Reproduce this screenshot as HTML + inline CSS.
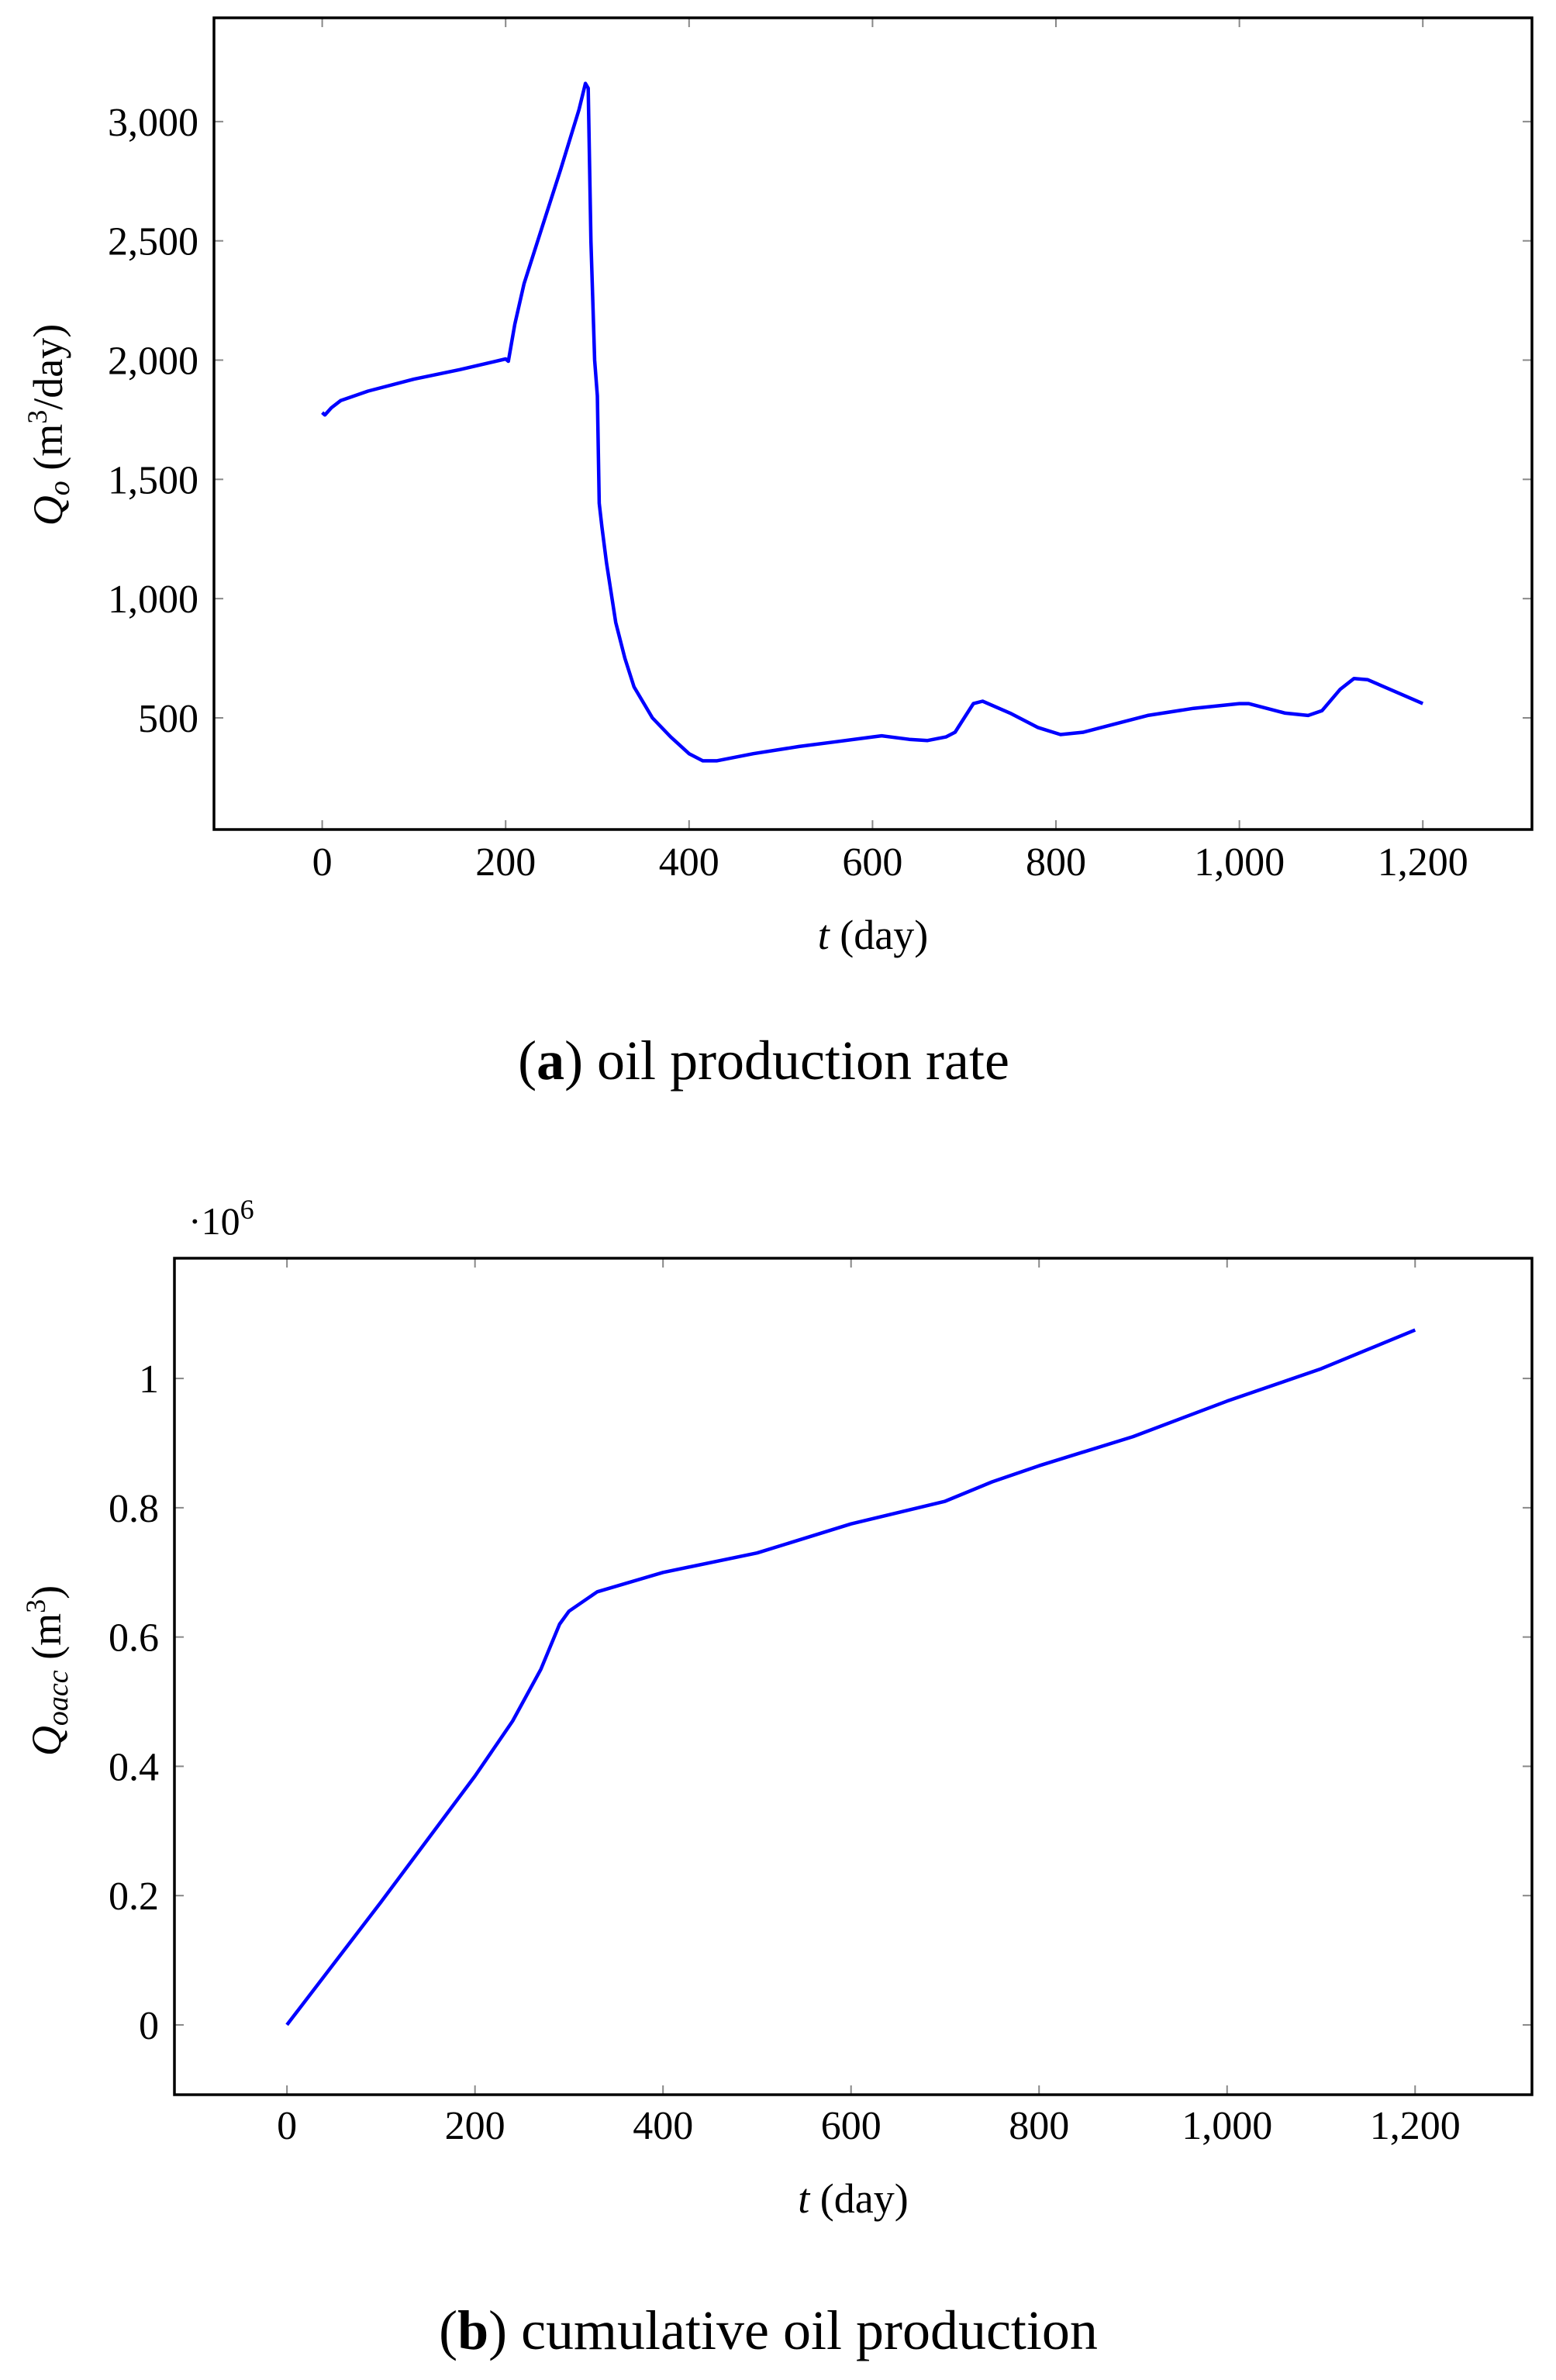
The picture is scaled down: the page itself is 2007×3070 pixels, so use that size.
<!DOCTYPE html>
<html><head><meta charset="utf-8"><style>
html,body{margin:0;padding:0;background:#fff;}
svg{display:block;font-family:"Liberation Serif",serif;}
</style></head><body>
<svg id="svg" width="2007" height="3070" viewBox="0 0 2007 3070" xmlns="http://www.w3.org/2000/svg">
<g id="chartA"></g>
<g id="chartB"></g>
<text x="985" y="1392" font-size="72" text-anchor="middle" font-family="Liberation Serif, serif">(<tspan font-weight="bold">a</tspan>) oil production rate</text>
<text x="991" y="3030" font-size="72" text-anchor="middle" font-family="Liberation Serif, serif">(<tspan font-weight="bold">b</tspan>) cumulative oil production</text>
</svg>
<script>
const rateDays = [0,3,10,20,50,100,150,200,203,210,220,240,260,280,287,290,293,297,300,302,305,310,320,330,340,360,380,400,415,430,470,520,560,600,610,640,660,680,690,700,710,720,750,780,805,830,860,900,950,1000,1010,1050,1075,1090,1110,1125,1140,1170,1200];
const rateValues = [1780,1770,1800,1830,1870,1920,1960,2005,1995,2150,2320,2560,2800,3050,3160,3140,2500,2000,1850,1400,1300,1150,900,750,630,500,420,350,320,320,350,380,400,420,425,410,405,420,440,500,560,570,520,460,430,440,470,510,540,560,560,520,510,530,620,665,660,610,560];
const rateXTicks = [0,200,400,600,800,1000,1200];
const rateYTicks = [500,1000,1500,2000,2500,3000];
const cumDays = [0,100,200,240,270,290,300,330,400,500,600,700,750,800,900,1000,1100,1150,1200];
const cumValues = [0,0.19,0.385,0.47,0.55,0.62,0.64,0.67,0.70,0.73,0.775,0.81,0.84,0.865,0.91,0.965,1.015,1.045,1.075];
const cumXTicks = [0,200,400,600,800,1000,1200];
const cumYTicks = [0,0.2,0.4,0.6,0.8,1];
const NS = "http://www.w3.org/2000/svg";
function mk(parent, tag, attrs){const e=document.createElementNS(NS,tag);for(const k in attrs)e.setAttribute(k,attrs[k]);parent.appendChild(e);return e;}
function fmt(v){return v>=1000?v.toLocaleString('en-US'):String(v);}
function draw(g, box, xd, yd, xs, ys, xt, yt, tickFmt, xLabelY){
  const sx=d=>box.x0+(d-xd[0])/(xd[1]-xd[0])*(box.x1-box.x0);
  const sy=v=>box.y1-(v-yd[0])/(yd[1]-yd[0])*(box.y1-box.y0);
  xt.forEach(t=>{
    const x=sx(t);
    const a=mk(g,'line',{x1:x,x2:x,y1:box.y1,y2:box.y1-12,stroke:'#888','stroke-width':2});
    
    
    const b=mk(g,'line',{x1:x,x2:x,y1:box.y0,y2:box.y0+12,stroke:'#888','stroke-width':2});
    
    
    const l=mk(g,'text',{x:x,y:xLabelY,'font-size':52,'text-anchor':'middle'});
    l.textContent=fmt(t);
    
    
  });
  yt.forEach(t=>{
    const y=sy(t);
    const a=mk(g,'line',{x1:box.x0,x2:box.x0+12,y1:y,y2:y,stroke:'#888','stroke-width':2});
    
    
    const b=mk(g,'line',{x1:box.x1,x2:box.x1-12,y1:y,y2:y,stroke:'#888','stroke-width':2});
    
    
    const l=mk(g,'text',{x:box.x0-20,y:y+18,'font-size':52,'text-anchor':'end'});
    l.textContent=tickFmt(t);
    
    
  });
  const pts=xs.map((d,i)=>sx(d).toFixed(1)+','+sy(ys[i]).toFixed(1)).join(' ');
  const p=mk(g,'polyline',{points:pts,fill:'none',stroke:'#0000ff','stroke-width':4.5,'stroke-linejoin':'round'});
  
  
  const r=mk(g,'rect',{x:box.x0,y:box.y0,width:box.x1-box.x0,height:box.y1-box.y0,fill:'none',stroke:'#000','stroke-width':3.5});
  
  
  const xl=mk(g,'text',{x:(box.x0+box.x1)/2,y:xLabelY+95,'font-size':54,'text-anchor':'middle'});
  xl.innerHTML='<tspan font-style="italic">t</tspan> (day)';
  
  
}
const gA=document.getElementById('chartA');
draw(gA,{x0:276,x1:1976,y0:23,y1:1070},[-118,1319],[32,3435],rateDays,rateValues,rateXTicks,rateYTicks,fmt,1129);
const yA=mk(gA,'text',{x:0,y:0,'font-size':54,'text-anchor':'middle',transform:'translate(80,548) rotate(-90)'});
yA.innerHTML='<tspan font-style="italic">Q</tspan><tspan font-style="italic" font-size="38" dy="9">o</tspan><tspan dy="-9"> (m</tspan><tspan font-size="36" dy="-20">3</tspan><tspan dy="20">/day)</tspan>';


const gB=document.getElementById('chartB');
draw(gB,{x0:225,x1:1976,y0:1623,y1:2702},[-119.7,1324.3],[-0.108,1.186],cumDays,cumValues,cumXTicks,cumYTicks,v=>String(v),2759);
const yB=mk(gB,'text',{x:0,y:0,'font-size':54,'text-anchor':'middle',transform:'translate(78,2155) rotate(-90)'});
yB.innerHTML='<tspan font-style="italic">Q</tspan><tspan font-style="italic" font-size="38" dy="9">oacc</tspan><tspan dy="-9"> (m</tspan><tspan font-size="36" dy="-20">3</tspan><tspan dy="20">)</tspan>';


const sc=mk(gB,'text',{x:243,y:1592,'font-size':50,'text-anchor':'start'});
sc.innerHTML='·10<tspan font-size="36" dy="-20">6</tspan>';


</script>
</body></html>
